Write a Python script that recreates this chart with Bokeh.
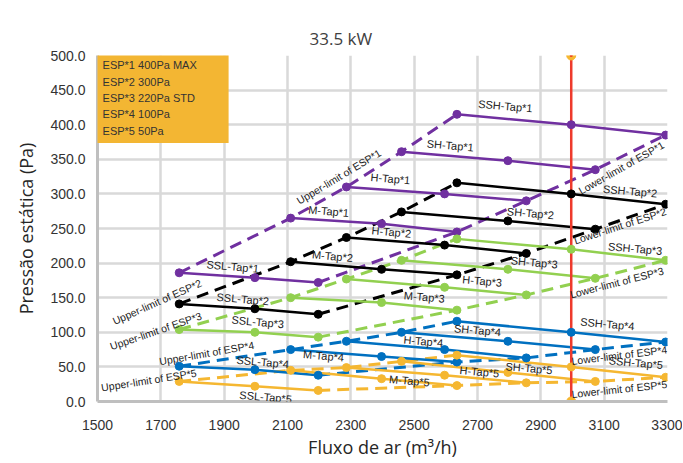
from bokeh.plotting import figure
from bokeh.models import Range1d, FixedTicker, NumeralTickFormatter, BoxAnnotation, LabelSet, ColumnDataSource
from bokeh.core.properties import value
from bokeh.embed import file_html
from bokeh.resources import INLINE

# ---------------- data ----------------
title_text = "33.5 kW"
x_title = "Fluxo de ar (m³/h)"
y_title = "Pressão estática (Pa)"
x_ticks = [1500, 1700, 1900, 2100, 2300, 2500, 2700, 2900, 3100, 3300]
y_ticks = [0, 50, 100, 150, 200, 250, 300, 350, 400, 450, 500]

legend_lines = ["ESP*1 400Pa MAX", "ESP*2 300Pa", "ESP*3 220Pa STD", "ESP*4 100Pa", "ESP*5 50Pa"]
esp_ids = ["1", "2", "3", "4", "5"]
taps = ["SSL", "M", "H", "SH", "SSH"]

# airflow (m3/h) per tap: [upper-limit point, middle point, lower-limit point]
flow_SSL = [1758, 1997, 2197]
flow_M = [2110, 2397, 2635]
flow_H = [2286, 2596, 2854]
flow_SH = [2460, 2796, 3072]
flow_SSH = [2635, 2996, 3294]
flows = [flow_SSL, flow_M, flow_H, flow_SH, flow_SSH]

# static pressure (Pa) per ESP, per tap (SSL, M, H, SH, SSH)
esp1 = [[186, 179, 172], [265, 257, 245], [310, 300, 290], [361, 348, 335], [415, 400, 385]]
esp2 = [[141, 134, 126], [202, 191, 183], [237, 226, 214], [274, 261, 249], [316, 300, 285]]
esp3 = [[104, 100, 93], [150, 143, 132], [177, 165, 154], [204, 191, 178], [235, 220, 204]]
esp4 = [[51, 46, 38], [75, 65, 57], [87, 75, 63], [100, 87, 75], [116, 100, 86]]
esp5 = [[29, 22, 16], [45, 33, 23], [49, 38, 27], [58, 42, 29], [67, 50, 35]]
esps = [esp1, esp2, esp3, esp4, esp5]

rated_flow = 2996
rated_span = [0, 500]

# annotation placement (data units) for tap labels and limit labels
tap_label_x = [[1927, 2230, 2425, 2614, 2788],
               [1959, 2242, 2428, 2867, 3182],
               [2006, 2532, 2715, 2879, 3198],
               [2022, 2214, 2529, 2700, 3110],
               [2031, 2485, 2706, 2863, 3200]]
tap_label_y = [[195, 275, 322, 370, 427],
               [148, 210, 245, 272, 304],
               [115, 151, 174, 201, 221],
               [57, 66, 87, 103, 112],
               [6.5, 30, 43, 48, 56]]
upper_lbl_x = [2262, 1688, 1684, 1845, 1662]
upper_lbl_y = [325, 144, 102, 70, 31]
upper_lbl_a = [31, 24, 19, 10, 9]
lower_lbl_x = [3154, 3150, 3140, 3148, 3148]
lower_lbl_y = [338, 254, 172, 67, 18]
lower_lbl_a = [29.5, 18, 14.5, 7, 6]

colors = ["#7030A0", "#000000", "#92D050", "#0070C0", "#F5B731"]
FONT = "Liberation Sans"

p = figure(frame_width=570, frame_height=346,
           x_range=Range1d(1500, 3300), y_range=Range1d(0, 500),
           output_backend="svg", toolbar_location=None,
           min_border_left=97, min_border_right=15, min_border_top=55, min_border_bottom=58)
p.outline_line_color = None
p.background_fill_color = "white"

p.title.text = title_text
p.title.align = "left"
p.title.offset = 212
p.title.vertical_align = "middle"
p.title.text_font = "Open Sans"
p.title.text_font_size = "17px"
p.title.text_font_style = "normal"
p.title.text_color = "#404040"

p.xaxis.ticker = FixedTicker(ticks=x_ticks)
p.yaxis.ticker = FixedTicker(ticks=y_ticks)
p.yaxis.formatter = NumeralTickFormatter(format="0.0")
for ax in (p.xaxis, p.yaxis):
    ax.axis_line_color = "#BFBFBF"
    ax.axis_line_width = 3
    ax.major_tick_line_color = None
    ax.minor_tick_line_color = None
    ax.major_label_text_font = FONT
    ax.major_label_text_font_size = "14px"
    ax.major_label_text_color = "#333333"
    ax.axis_label_text_font = "Open Sans"
    ax.axis_label_text_font_size = "18px"
    ax.axis_label_text_font_style = "normal"
    ax.axis_label_text_color = "#262626"
p.xaxis.axis_label = x_title
p.yaxis.axis_label = y_title
p.xaxis.major_label_standoff = 12
p.yaxis.major_label_standoff = 6
p.xaxis.axis_label_standoff = 2
p.yaxis.axis_label_standoff = 9
p.grid.grid_line_color = "#D9D9D9"
p.grid.grid_line_width = 2.5

# legend box
p.add_layout(BoxAnnotation(left=1495, right=1914, top=500.7, bottom=373.4,
                           fill_color="#F3B633", fill_alpha=1.0, line_color=None))
leg_y = [485.6, 461.5, 439, 414.9, 390.8]
p.add_layout(LabelSet(source=ColumnDataSource(dict(x=[1516] * 5, y=leg_y, t=legend_lines)),
                      x="x", y="y", text="t", text_font=value(FONT), text_font_size="11px",
                      text_color="#333333", text_baseline="middle", text_align="left"))

# limit lines (dashed)
for esp, c in zip(esps, colors):
    ux = [f[0] for f in flows]
    uy = [e[0] for e in esp]
    lx = [f[2] for f in flows]
    ly = [e[2] for e in esp]
    p.line(ux, uy, line_color=c, line_width=3, line_dash="12 7")
    p.line(lx, ly, line_color=c, line_width=3, line_dash="12 7")

# tap lines
for esp, c in zip(esps, colors):
    for f, e in zip(flows, esp):
        p.line(f, e, line_color=c, line_width=2.5)

# rated airflow line
p.line([rated_flow, rated_flow], rated_span, line_color="#EE3A2C", line_width=2.5)
p.scatter([rated_flow, rated_flow], rated_span, size=9, fill_color="#F5B731", line_color="#F5B731")
p.scatter([rated_flow, rated_flow], rated_span, size=3, fill_color="#EE3A2C", line_color=None)

# markers
for esp, c in zip(esps, colors):
    for f, e in zip(flows, esp):
        p.scatter(f, e, size=8, fill_color=c, line_color=c)

# tap labels
tx, ty, tt = [], [], []
for i, eid in enumerate(esp_ids):
    for j, tp in enumerate(taps):
        tx.append(tap_label_x[i][j])
        ty.append(tap_label_y[i][j])
        tt.append(f"{tp}-Tap*{eid}")
p.add_layout(LabelSet(source=ColumnDataSource(dict(x=tx, y=ty, t=tt)), x="x", y="y", text="t",
                      angle=-5, angle_units="deg", text_font=value(FONT), text_font_size="11px",
                      text_color="#222222", text_align="center", text_baseline="middle"))

# limit labels
lbx, lby, lba, lbt = [], [], [], []
for i, eid in enumerate(esp_ids):
    lbx.append(upper_lbl_x[i]); lby.append(upper_lbl_y[i]); lba.append(upper_lbl_a[i])
    lbt.append(f"Upper-limit of ESP*{eid}")
    lbx.append(lower_lbl_x[i]); lby.append(lower_lbl_y[i]); lba.append(lower_lbl_a[i])
    lbt.append(f"Lower-limit of ESP*{eid}")
p.add_layout(LabelSet(source=ColumnDataSource(dict(x=lbx, y=lby, a=lba, t=lbt)), x="x", y="y", text="t",
                      angle="a", angle_units="deg", text_font=value(FONT), text_font_size="10.5px",
                      text_color="#222222", text_align="center", text_baseline="middle"))

open("out.html", "w").write(file_html(p, INLINE))
